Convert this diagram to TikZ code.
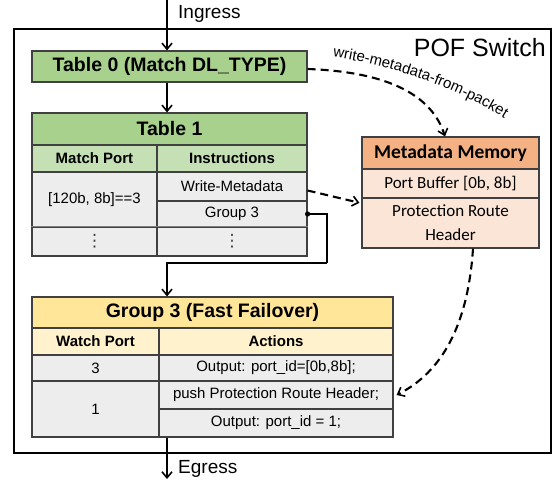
\documentclass[tikz,border=0pt]{standalone}
\usepackage{fontspec}
\setmainfont{Liberation Sans}
\newfontfamily\calibfont{Carlito}
\newfontfamily\symfont{DejaVu Sans}
\usetikzlibrary{arrows.meta,calc,decorations.text}

\definecolor{grnA}{HTML}{A9D18E}
\definecolor{grnB}{HTML}{C5E0B4}
\definecolor{yelA}{HTML}{FFE699}
\definecolor{yelB}{HTML}{FFF2CC}
\definecolor{orgA}{HTML}{F4B183}
\definecolor{orgB}{HTML}{FBE5D6}
\definecolor{cellgray}{HTML}{EDEDED}
\definecolor{edge}{HTML}{404040}

\tikzset{
  cell/.style={draw=edge, line width=1.2pt, inner sep=0pt, anchor=center, align=center,
    font=\fontsize{15}{18}\selectfont},
  ttl/.style={cell, font=\bfseries\fontsize{19.5}{22}\selectfont},
  hdr/.style={cell, font=\bfseries\fontsize{15}{18}\selectfont},
  mcell/.style={cell, font=\calibfont\fontsize{17}{24}\selectfont},
  dotcell/.style={cell, text=edge, font=\symfont\fontsize{17}{17}\selectfont},
  conn/.style={line width=1.8pt, -{Straight Barb[length=6pt,width=10pt,line width=1.6pt]}},
  dconn/.style={conn, line width=2.1pt, dash pattern=on 8pt off 5pt},
}

\begin{document}
\begin{tikzpicture}[x=1pt,y=-1pt]
\useasboundingbox (0,0) rectangle (556,484);

% switch frame
\node[draw, line width=2.2pt, minimum width=537, minimum height=424, inner sep=0pt] (sw) at (282.5,241) {};
\node[anchor=east, inner sep=0pt, font=\fontsize{25}{28}\selectfont] (swlbl) at (546,48) {POF Switch};

% ingress / egress ends
\coordinate (ing) at (167,0);
\coordinate (egr) at (167,479);
\node[anchor=west, inner sep=0pt, font=\fontsize{19}{22}\selectfont] (inglbl) at (178,14) {Ingress};
\node[anchor=west, inner sep=0pt, font=\fontsize{19}{22}\selectfont] (egrlbl) at (178,469) {Egress};

% Table 0
\node[ttl, fill=grnA, minimum width=275, minimum height=31] (t0) at (169.5,66.5) {Table 0 (Match DL\_TYPE)};

% Table 1
\node[ttl, fill=grnA, minimum width=275, minimum height=32] (t1) at (169.5,129) {Table 1};
\node[hdr, fill=grnB, minimum width=125, minimum height=27] (t1h1) at (94.5,158.5) {Match Port};
\node[hdr, fill=grnB, minimum width=150, minimum height=27] (t1h2) at (232,158.5) {Instructions};
\node[cell, fill=cellgray, minimum width=125, minimum height=55] (t1m) at (94.5,199.5) {[120b, 8b]==3};
\node[cell, fill=cellgray, minimum width=150, minimum height=29] (t1w) at (232,186.5) {Write-Metadata};
\node[cell, fill=cellgray, minimum width=150, minimum height=26] (t1g) at (232,214) {Group 3};
\node[dotcell, fill=cellgray, minimum width=125, minimum height=29] (t1d1) at (94.5,241.5) {⋮};
\node[dotcell, fill=cellgray, minimum width=150, minimum height=29] (t1d2) at (232,241.5) {⋮};
\draw[line width=1.8pt, draw=gray] (t1d1.north west) -- (t1d2.north east);

% Metadata memory
\node[mcell, fill=orgA, minimum width=177, minimum height=32, font=\calibfont\bfseries\fontsize{19.5}{22}\selectfont] (mm) at (450.5,153) {Metadata Memory};
\node[mcell, fill=orgB, minimum width=177, minimum height=29] (mm1) at (450.5,183.5) {Port Buffer [0b, 8b]};
\node[mcell, fill=orgB, minimum width=177, minimum height=50] (mm2) at (450.5,223) {Protection Route\\Header};

% Group 3
\node[ttl, fill=yelA, minimum width=361, minimum height=31] (g3) at (212.5,312.5) {Group 3 (Fast Failover)};
\node[hdr, fill=yelB, minimum width=127, minimum height=27] (g3h1) at (95.5,341.5) {Watch Port};
\node[hdr, fill=yelB, minimum width=234, minimum height=27] (g3h2) at (276,341.5) {Actions};
\node[cell, fill=cellgray, minimum width=127, minimum height=26] (g3a1) at (95.5,368) {3};
\node[cell, fill=cellgray, minimum width=234, minimum height=26] (g3b1) at (276,368) {Output: port\_id=[0b,8b];};
\node[cell, fill=cellgray, minimum width=127, minimum height=56] (g3a2) at (95.5,409) {1};
\node[cell, fill=cellgray, minimum width=234, minimum height=28] (g3b2) at (276,395) {push Protection Route Header;};
\node[cell, fill=cellgray, minimum width=234, minimum height=28] (g3b3) at (276,423) {Output: port\_id = 1;};

% solid flow
\draw[conn] (ing) -- (ing |- t0.north);
\draw[conn] (t0.south -| ing) -- (t1.north -| ing);
\coordinate (bend) at (327,263);
\fill (t1g.east) circle (2.6pt);
\draw[line width=1.8pt] (t1g.east) -| (bend);
\draw[conn] (bend) -| (g3.north -| ing);
\draw[conn] (g3a2.south -| ing) -- (egr);

% metadata flows
\draw[dconn] ([yshift=-2.5pt]t0.east) .. controls (390,72) and (432,96) .. ([xshift=-5.5pt]mm.north);
\path[decorate, decoration={text along path, text align=center,
  text={|\fontsize{15}{16}\selectfont|write-metadata-from-packet}}]
  (326,56) .. controls (390,64) and (462,90) .. (510,122);
\draw[dconn, shorten >=2pt] ([yshift=-4pt]t1w.east) -- ($(mm1.west)!0.5!(mm2.west)$);
\draw[dconn] ([xshift=22.5pt]mm2.south) .. controls (468,325) and (442,372) .. ([xshift=3pt]g3b2.east);
\end{tikzpicture}
\end{document}
